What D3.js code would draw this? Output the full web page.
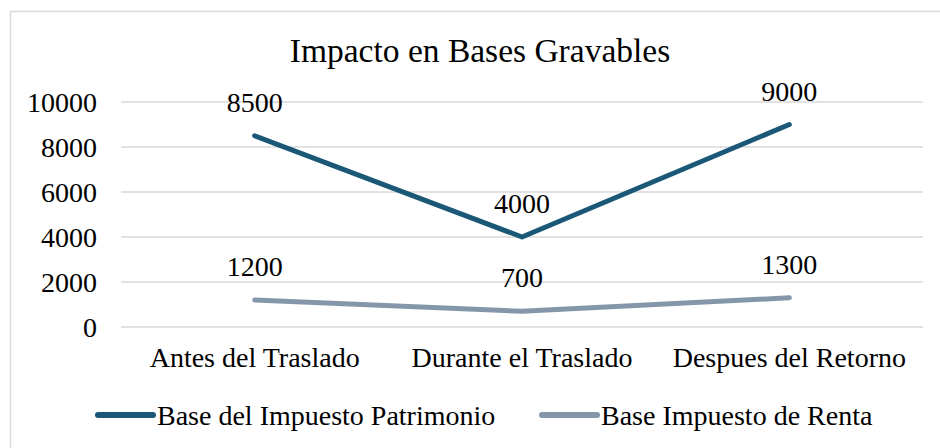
<!DOCTYPE html>
<html>
<head>
<meta charset="utf-8">
<script src="https://cdn.jsdelivr.net/npm/d3@7"></script>
<style>
  body { margin: 0; background: #fff; }
  svg text { font-family: "Liberation Serif", "Times New Roman", serif; fill: #000; }
</style>
</head>
<body>
<div id="chart"></div>
<script>
var categories = ["Antes del Traslado", "Durante el Traslado", "Despues del Retorno"];
var patrimonio = [8500, 4000, 9000];
var renta = [1200, 700, 1300];
var seriesNames = ["Base del Impuesto Patrimonio", "Base Impuesto de Renta"];
var seriesColors = ["#1b5877", "#8497a8"];
var yTicks = [0, 2000, 4000, 6000, 8000, 10000];

var series = [
  {name: seriesNames[0], color: seriesColors[0], values: patrimonio},
  {name: seriesNames[1], color: seriesColors[1], values: renta}
];

var fontSize = "28px";

var svg = d3.select("#chart").append("svg")
  .attr("width", 940)
  .attr("height", 448);

// chart border (right and bottom edges run off the picture)
svg.append("rect")
  .attr("x", 10.5).attr("y", 11.5)
  .attr("width", 960).attr("height", 460)
  .attr("fill", "none")
  .attr("stroke", "#d9d9d9")
  .attr("stroke-width", 1.5);

svg.append("text")
  .attr("x", 480).attr("y", 62)
  .attr("text-anchor", "middle")
  .style("font-size", "33.5px")
  .text("Impacto en Bases Gravables");

var x = d3.scaleBand()
  .domain(categories)
  .range([121, 923]);

var y = d3.scaleLinear()
  .domain([0, 10000])
  .range([327, 102]);

// gridlines
svg.append("g")
  .selectAll("line")
  .data(yTicks)
  .join("line")
  .attr("x1", 121).attr("x2", 923)
  .attr("y1", d => y(d)).attr("y2", d => y(d))
  .attr("stroke", "#d9d9d9")
  .attr("stroke-width", 1.5);

// y axis
var yAxis = d3.axisLeft(y)
  .tickValues(yTicks)
  .tickSize(0)
  .tickPadding(0)
  .tickFormat(d3.format("d"));

var gy = svg.append("g")
  .attr("transform", "translate(97,0)")
  .call(yAxis)
  .attr("font-family", null)
  .attr("font-size", null);
gy.select(".domain").remove();
gy.selectAll("text")
  .style("font-size", fontSize)
  .attr("dy", "0.34em");

// x axis
var xAxis = d3.axisBottom(x).tickSize(0).tickPadding(0);
var gx = svg.append("g")
  .attr("transform", "translate(0,367)")
  .call(xAxis)
  .attr("font-family", null)
  .attr("font-size", null);
gx.select(".domain").remove();
gx.selectAll("text")
  .style("font-size", fontSize)
  .attr("y", 0)
  .attr("dy", 0);

var line = d3.line()
  .x((d, i) => x(categories[i]) + x.bandwidth() / 2)
  .y(d => y(d));

series.forEach(function(s) {
  svg.append("path")
    .datum(s.values)
    .attr("fill", "none")
    .attr("stroke", s.color)
    .attr("stroke-width", 5)
    .attr("stroke-linejoin", "round")
    .attr("stroke-linecap", "round")
    .attr("d", line);

  svg.append("g")
    .selectAll("text")
    .data(s.values)
    .join("text")
    .attr("x", (d, i) => x(categories[i]) + x.bandwidth() / 2)
    .attr("y", d => y(d) - 24)
    .attr("text-anchor", "middle")
    .style("font-size", fontSize)
    .text(d => d);
});

// legend
var legendX = [98, 542];
var legend = svg.append("g")
  .selectAll("g")
  .data(series)
  .join("g")
  .attr("transform", (d, i) => "translate(" + legendX[i] + ",415)");
legend.append("line")
  .attr("x1", 0).attr("x2", 55)
  .attr("stroke", d => d.color)
  .attr("stroke-width", 6)
  .attr("stroke-linecap", "round");
legend.append("text")
  .attr("x", 59)
  .attr("dy", "0.34em")
  .style("font-size", fontSize)
  .text(d => d.name);
</script>
</body>
</html>
